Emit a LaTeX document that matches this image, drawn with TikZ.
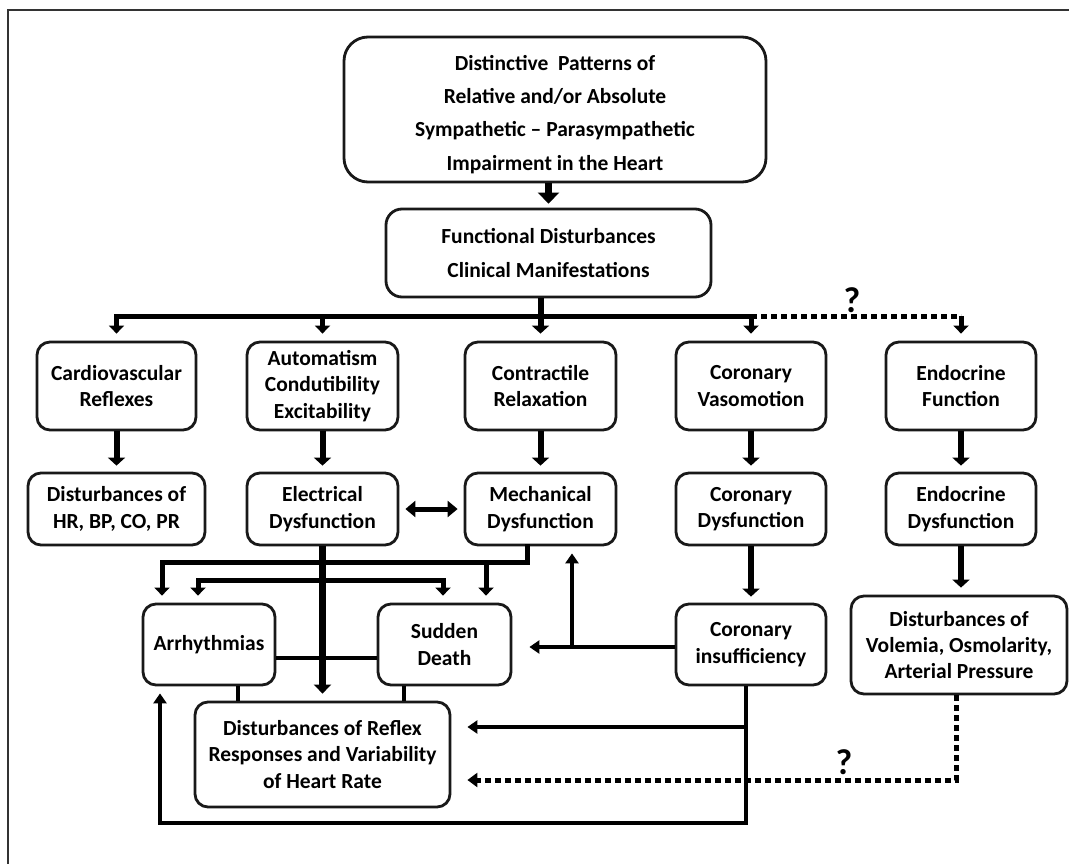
\documentclass[tikz,border=0pt]{standalone}
\usepackage{fontspec}
\setmainfont{Carlito}
\usetikzlibrary{arrows.meta,calc}
\begin{document}
\begin{tikzpicture}[x=1pt,y=-1pt,
 box/.style={draw=black!90, line width=2.8pt, rounded corners=13pt, align=center, inner sep=0pt, font=\bfseries\fontsize{21.5}{26.3}\selectfont},
 bigbox/.style={box, rounded corners=24pt, font=\bfseries\fontsize{21.5}{33.3}\selectfont},
 fat/.style={line width=6.5pt, -{Triangle[width=21pt,length=11pt]}},
 med/.style={line width=6pt, -{Triangle[width=17pt,length=8pt]}},
 bus/.style={line width=5pt, line cap=rect},
 busarr/.style={line width=5pt, -{Triangle[width=15pt,length=8pt]}},
 thinln/.style={line width=4pt},
 thinarr/.style={line width=4pt, -{Triangle[width=13pt,length=10pt]}},
 dots/.style={line width=5pt, dash pattern=on 6pt off 4pt},
 q/.style={font=\bfseries\fontsize{36}{36}\selectfont, inner sep=0pt}
]
\useasboundingbox (0,0) rectangle (1069,864);
\fill[white] (0,0) rectangle (1069,864);
\draw[line width=2pt, black!80] (8,870) -- (8,10) -- (1075,10);

% nodes
\node[bigbox, minimum width=422pt, minimum height=145pt] (top) at (555,109.5) {\rule{0pt}{25pt}Distinctive\ \ Patterns of\\Relative and/or Absolute\\Sympathetic\ –\ Parasympathetic\\Impairment in the Heart};
\node[bigbox, rounded corners=16pt, minimum width=325pt, minimum height=88pt] (func) at (548.5,253) {Functional Disturbances\\Clinical Manifestations};

\node[box, minimum width=159pt, minimum height=88pt] (cv) at (116.5,386) {Cardiovascular\\Reflexes};
\node[box, minimum width=151pt, minimum height=88pt] (aut) at (322.5,386) {Automatism\\Condutibility\\Excitability};
\node[box, minimum width=151pt, minimum height=88pt] (con) at (540.5,386) {Contractile\\Relaxation};
\node[box, minimum width=150pt, minimum height=88pt] (vas) at (751,386) {Coronary\\Vasomotion};
\node[box, minimum width=150pt, minimum height=88pt] (endf) at (961,386) {Endocrine\\Function};

\node[box, minimum width=177pt, minimum height=72pt] (dist) at (116.5,509) {Disturbances of\\HR, BP, CO, PR};
\node[box, minimum width=151pt, minimum height=72pt] (ele) at (322.5,509) {Electrical\\Dysfunction};
\node[box, minimum width=151pt, minimum height=72pt] (mech) at (540.5,509) {Mechanical\\Dysfunction};
\node[box, minimum width=150pt, minimum height=72pt] (cord) at (751,509) {Coronary\\Dysfunction};
\node[box, minimum width=150pt, minimum height=72pt] (endd) at (961,509) {Endocrine\\Dysfunction};

\node[box, minimum width=132pt, minimum height=81pt] (arr) at (209,644.5) {Arrhythmias};
\node[box, minimum width=133pt, minimum height=81pt] (sud) at (444.5,644.5) {Sudden\\Death};
\node[box, minimum width=150pt, minimum height=81pt] (cins) at (751,644.5) {Coronary\\insufficiency};
\node[box, minimum width=216pt, minimum height=98pt] (vol) at (959,645) {Disturbances of\\Volemia, Osmolarity,\\Arterial Pressure};
\node[box, minimum width=255pt, minimum height=105pt] (ref) at (322.5,754.5) {Disturbances of Reflex\\Responses and Variability\\of Heart Rate};

% helper coordinates
\coordinate (busy) at (0,316);
\coordinate (u) at (0,562);
\coordinate (l) at (0,580);
\coordinate (h) at (0,658);
\coordinate (cl) at (0,647);
\coordinate (r1) at (0,727);
\coordinate (dd) at (0,780);
\coordinate (bot) at (0,823);
\coordinate (ms) at ([xshift=-13.5pt]mech.south);
\coordinate (a1) at ([xshift=-47pt]arr.north);
\coordinate (a2) at ([xshift=-11pt]arr.north);
\coordinate (s1) at ([xshift=-1.5pt]sud.north);
\coordinate (s2) at ([xshift=41.5pt]sud.north);
\coordinate (st1) at ([xshift=29pt]arr.south);
\coordinate (st2) at ([xshift=-40.5pt]sud.south);
\coordinate (upc) at ([xshift=31.5pt]mech.south);
\coordinate (cb) at ([xshift=-5pt]cins.south);
\coordinate (a3) at ([xshift=-49pt]arr.south);
\coordinate (vb) at ([xshift=-3pt]vol.south);

% top connectors
\draw[fat, shorten >=4pt] (top.south -| func.north) -- (func.north);
\draw[med, shorten >=7pt] (func.south -| con.north) -- (con.north);
\draw[bus] (cv.north |- busy) -- (vas.north |- busy);
\foreach \n in {cv,aut,vas} \draw[busarr, shorten >=7pt] (\n.north |- busy) -- (\n.north);
\draw[dots] (vas.north |- busy) -- (endf.north |- busy);
\draw[busarr, shorten >=7pt] (endf.north |- busy) -- (endf.north);
\node[q] (q1) at (852,300) {?};

% row arrows
\draw[med, shorten >=6pt] (cv.south) -- (dist.north);
\draw[med, shorten >=6pt] (aut.south) -- (ele.north);
\draw[med, shorten >=6pt] (con.south) -- (mech.north);
\draw[med, shorten >=6pt] (vas.south) -- (cord.north);
\draw[med, shorten >=6pt] (endf.south) -- (endd.north);
\draw[line width=5pt, {Triangle[width=16pt,length=10pt]}-{Triangle[width=16pt,length=10pt]}, shorten <=6pt, shorten >=6pt] (ele.east) -- (mech.west);

% lower network
\draw[bus] (ms) -- (ms |- u) -- (a1 |- u);
\draw[busarr, shorten >=7pt] (a1 |- u) -- (a1);
\draw[busarr, shorten >=7pt] (s2 |- u) -- (s2);
\draw[bus] (a2 |- l) -- (s1 |- l);
\draw[busarr, shorten >=7pt] (a2 |- l) -- (a2);
\draw[busarr, shorten >=7pt] (s1 |- l) -- (s1);
\draw[thinln] (arr.east |- h) -- (sud.west |- h);
\draw[line width=6.5pt, -{Triangle[width=17pt,length=9pt]}, shorten >=7pt] (ele.south) -- (ref.north);
\draw[thinln] (st1) -- (st1 |- ref.north);
\draw[thinln] (st2) -- (st2 |- ref.north);

\draw[med, shorten >=6pt] (cord.south) -- (cins.north);
\draw[med, shorten >=7pt] (endd.south) -- (endd.south |- vol.north);

\draw[thinarr, shorten >=17pt] (cins.west |- cl) -- (sud.east |- cl);
\draw[thinarr, shorten >=7pt] (upc |- cl) -- (upc);
\draw[thinarr, shorten >=7pt, line join=miter] (cb) -- (cb |- bot) -- (a3 |- bot) -- (a3);
\draw[thinarr, shorten >=16pt] (cb |- r1) -- (ref.east |- r1);

\draw[dots, -{Triangle[width=14pt,length=10pt]}, shorten >=16pt] (vb) -- (vb |- dd) -- (ref.east |- dd);
\node[q] (q2) at (844,762) {?};
\end{tikzpicture}
\end{document}
